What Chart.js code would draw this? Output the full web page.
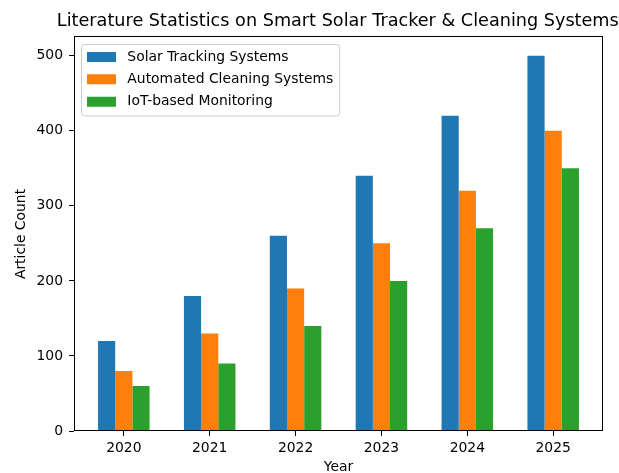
<!DOCTYPE html>
<html lang="en">

<head>
  <meta charset="UTF-8">
  <title>Literature Statistics on Smart Solar Tracker &amp; Cleaning Systems</title>
  <script src="https://cdn.jsdelivr.net/npm/chart.js@4.4.1/dist/chart.umd.min.js"></script>
  <style>
    html,
    body {
      margin: 0;
      padding: 0;
      background: #fff;
    }

    #wrap {
      width: 619px;
      height: 473px;
    }
  </style>
</head>

<body>
  <div id="wrap">
    <canvas id="chart" width="619" height="473"></canvas>
  </div>

  <script>
    // data
    const years = [2020, 2021, 2022, 2023, 2024, 2025];
    const solarTracking = [120, 180, 260, 340, 420, 500];
    const autoCleaning = [80, 130, 190, 250, 320, 400];
    const iotMonitoring = [60, 90, 140, 200, 270, 350];
    const yTicks = [0, 100, 200, 300, 400, 500];
    const seriesNames = ['Solar Tracking Systems', 'Automated Cleaning Systems', 'IoT-based Monitoring'];
    const seriesColors = ['#1f77b4', '#ff7f0e', '#2ca02c'];

    Chart.defaults.font.family = "'DejaVu Sans', sans-serif";
    Chart.defaults.color = '#000';
    Chart.defaults.animation = false;

    const toPoints = (vals) => vals.map((v, i) => ({ x: years[i], y: v }));

    // axes box + legend frame, like matplotlib draws them
    const framePlugin = {
      id: 'frame',
      beforeDraw(chart) {
        const { ctx, chartArea: a, legend, titleBlock } = chart;
        // title is centred on the plot but wider than it, so don't squeeze it
        const mid = (a.left + a.right) / 2 - 0.7;
        titleBlock.left = mid - 300;
        titleBlock.right = mid + 300;
        titleBlock.width = 600;

        legend.left = a.left + 4.5;
        legend.top = a.top + 4.5;

        ctx.save();
        ctx.font = '13.9px "DejaVu Sans"';
        const maxText = Math.max(...seriesNames.map(n => ctx.measureText(' ' + n).width));
        const x0 = a.left + 7;
        const y0 = a.top + 7;
        const x1 = legend.left + 8.5 + 29 + 6.95 + maxText + 6;
        const y1 = a.top + 78.5;
        ctx.beginPath();
        ctx.roundRect(x0 + 0.5, y0 + 0.5, x1 - x0, y1 - y0, 3);
        ctx.fillStyle = 'rgba(255,255,255,0.8)';
        ctx.fill();
        ctx.strokeStyle = '#cccccc';
        ctx.lineWidth = 1;
        ctx.stroke();
        ctx.restore();
      },
      afterDraw(chart) {
        const { ctx, chartArea: a } = chart;
        ctx.save();
        ctx.strokeStyle = '#000';
        ctx.lineWidth = 1;
        ctx.strokeRect(a.left + 0.5, a.top - 0.5, a.right - a.left - 1, a.bottom - a.top);
        ctx.restore();
      }
    };

    const ctx = document.getElementById('chart');

    new Chart(ctx, {
      type: 'bar',
      data: {
        datasets: [
          { label: seriesNames[0], data: toPoints(solarTracking), backgroundColor: seriesColors[0] },
          { label: seriesNames[1], data: toPoints(autoCleaning), backgroundColor: seriesColors[1] },
          { label: seriesNames[2], data: toPoints(iotMonitoring), backgroundColor: seriesColors[2] }
        ]
      },
      options: {
        responsive: false,
        datasets: {
          bar: {
            categoryPercentage: 0.6,
            barPercentage: 1.0,
            borderWidth: 0
          }
        },
        layout: {
          padding: { left: 0, right: 16, top: 0, bottom: 0 }
        },
        scales: {
          x: {
            type: 'linear',
            offset: false,
            min: years[0] - 0.58,
            max: years[years.length - 1] + 0.58,
            afterBuildTicks: (axis) => { axis.ticks = years.map(v => ({ value: v })); },
            afterFit: (axis) => { axis.height = 42; },
            ticks: {
              callback: (v) => String(v),
              font: { size: 13.9 },
              padding: 4,
              maxRotation: 0
            },
            grid: {
              offset: false,
              drawOnChartArea: false,
              tickLength: 5,
              tickColor: '#000',
              tickWidth: 1
            },
            border: { display: false },
            title: {
              display: true,
              text: 'Year',
              font: { size: 13.9, lineHeight: 1 },
              padding: { top: 0, bottom: -1 }
            }
          },
          y: {
            min: 0,
            max: 525,
            afterBuildTicks: (axis) => { axis.ticks = yTicks.map(v => ({ value: v })); },
            afterFit: (axis) => { axis.width = 74; },
            ticks: {
              callback: (v) => String(v),
              font: { size: 13.9 },
              padding: 6
            },
            grid: {
              drawOnChartArea: false,
              tickLength: 5,
              tickColor: '#000',
              tickWidth: 1
            },
            border: { display: false },
            title: {
              display: true,
              text: 'Article Count',
              font: { size: 13.9, lineHeight: 1 },
              padding: { top: 14.7, bottom: 0 }
            }
          }
        },
        plugins: {
          title: {
            display: true,
            fullSize: false,
            text: 'Literature Statistics on Smart Solar Tracker & Cleaning Systems',
            font: { size: 17.65, weight: 'normal', lineHeight: 1.2 },
            padding: { top: 10.6, bottom: 5.2 }
          },
          legend: {
            position: 'chartArea',
            align: 'start',
            labels: {
              boxWidth: 29,
              boxHeight: 10,
              padding: 8.5,
              font: { size: 13.9 },
              generateLabels: (chart) => Chart.defaults.plugins.legend.labels.generateLabels(chart)
                .map(item => ({ ...item, text: ' ' + item.text }))
            }
          },
          tooltip: { enabled: false }
        }
      },
      plugins: [framePlugin]
    });
  </script>
</body>

</html>
